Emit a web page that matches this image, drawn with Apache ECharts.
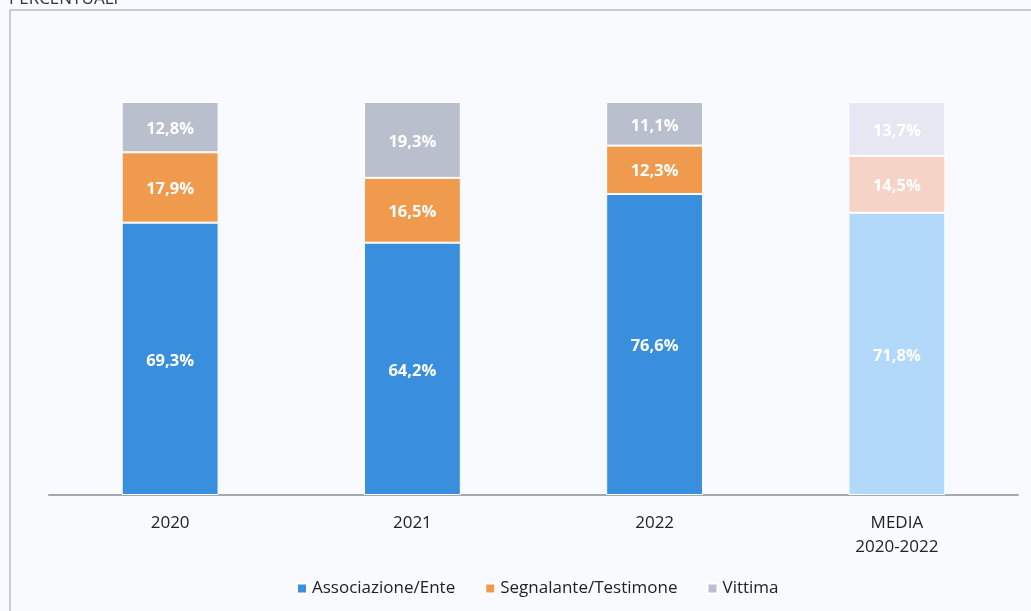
<!DOCTYPE html>
<html>
<head>
<meta charset="utf-8">
<title>Percentuali</title>
<script src="https://cdn.jsdelivr.net/npm/echarts@6/dist/echarts.min.js"></script>
<style>
  html, body { margin: 0; padding: 0; background: #f8fafd; }
  #main { width: 1031px; height: 611px; }
</style>
</head>
<body>
<div id="main"></div>
<script>
  // categorie e valori (percentuali)
  var categories = ['2020', '2021', '2022', 'MEDIA\n2020-2022'];
  var associazione = [69.3, 64.2, 76.6, 71.8];
  var segnalante = [17.9, 16.5, 12.3, 14.5];
  var vittima = [12.8, 19.3, 11.1, 13.7];

  var chart = echarts.init(document.getElementById('main'));

  // l'ultima barra (media) e' piu' chiara
  function build(values, light) {
    return values.map(function (v, i) {
      var item = { value: v };
      if (i === values.length - 1) item.itemStyle = { color: light };
      return item;
    });
  }

  var label = {
    show: true,
    color: '#fff',
    fontWeight: 'bold',
    fontSize: 16.5,
    fontFamily: 'Open Sans',
    offset: [0, 2],
    formatter: function (p) { return p.value.toFixed(1).replace('.', ',') + '%'; }
  };

  var option = {
    backgroundColor: '#f8fafd',
    animation: false,
    textStyle: { fontFamily: 'Open Sans' },
    graphic: [
      { type: 'rect', shape: { x: 10, y: 10, width: 1040, height: 620 },
        style: { fill: 'none', stroke: '#9aa0a8', lineWidth: 1 }, silent: true },
      { type: 'text', left: 9, top: -9,
        style: { text: 'PERCENTUALI', fontSize: 17, fill: '#333', fontFamily: 'Open Sans' } }
    ],
    grid: { left: 49, right: 13, top: 102, bottom: 116 },
    legend: {
      bottom: 9,
      left: 291,
      itemWidth: 10,
      itemHeight: 10,
      itemGap: 29,
      icon: 'rect',
      textStyle: { fontSize: 17, color: '#222', fontFamily: 'Open Sans' },
      data: ['Associazione/Ente', 'Segnalante/Testimone', 'Vittima']
    },
    xAxis: {
      type: 'category',
      data: categories,
      axisLine: { lineStyle: { color: '#a3a9b0', width: 2 } },
      axisTick: { show: false },
      axisLabel: { fontSize: 17, color: '#222', margin: 16, lineHeight: 24 }
    },
    yAxis: {
      type: 'value',
      min: 0,
      max: 100,
      show: false
    },
    series: [
      {
        name: 'Associazione/Ente', type: 'bar', stack: 'tot', barWidth: '40%',
        itemStyle: { color: '#3a8ede', borderColor: '#fff', borderWidth: 1 },
        label: label,
        data: build(associazione, '#b3d9fa')
      },
      {
        name: 'Segnalante/Testimone', type: 'bar', stack: 'tot',
        itemStyle: { color: '#f09a4e', borderColor: '#fff', borderWidth: 1 },
        label: label,
        data: build(segnalante, '#f5d3c6')
      },
      {
        name: 'Vittima', type: 'bar', stack: 'tot',
        itemStyle: { color: '#b9bfcc', borderColor: '#fff', borderWidth: 1 },
        label: label,
        data: build(vittima, '#e6e7f3')
      }
    ]
  };

  chart.setOption(option);
</script>
</body>
</html>
